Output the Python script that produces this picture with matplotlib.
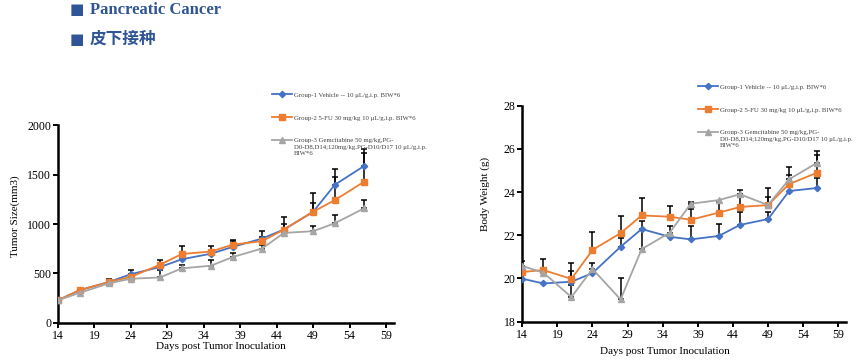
import numpy as np
import matplotlib
matplotlib.use('Agg')
import matplotlib.pyplot as plt

# Days of measurement
days = [14, 17, 21, 24, 28, 31, 35, 38, 42, 45, 49, 52, 56]

labels = ['Group-1 Vehicle -- 10 \u03bcL/g,i.p. BIW*6',
          'Group-2 5-FU 30 mg/kg 10 \u03bcL/g,i.p. BIW*6',
          'Group-3 Gemcitabine 50 mg/kg,PG-\nD0-D8,D14;120mg/kg,PG-D10/D17 10 \u03bcL/g,i.p.\nBIW*6']

# Tumor size (mm3)
tumor_g1 = [230, 332, 414, 493, 565, 644, 700, 769, 853, 944, 1123, 1397, 1586]
tumor_g2 = [230, 332, 414, 466, 589, 697, 722, 792, 826, 944, 1123, 1242, 1427]
tumor_g3 = [230, 305, 401, 447, 460, 552, 579, 667, 752, 910, 927, 1008, 1158]
tumor_err_g1 = [0, 25, 25, 42, 35, 40, 30, 60, 77, 127, 186, 154, 170]
tumor_err_g2 = [0, 26, 27, 30, 50, 82, 56, 50, 40, 53, 91, 233, 290]
tumor_err_g3 = [0, 20, 20, 20, 72, 35, 55, 43, 40, 20, 48, 84, 84]

# Body weight (g)
bw_g1 = [19.99, 19.77, 19.85, 20.25, 21.47, 22.29, 21.93, 21.81, 21.97, 22.48, 22.75, 24.05, 24.19]
bw_g2 = [20.30, 20.39, 19.98, 21.32, 22.10, 22.92, 22.86, 22.72, 23.05, 23.31, 23.40, 24.37, 24.90]
bw_g3 = [20.58, 20.27, 19.14, 20.44, 19.03, 21.36, 22.12, 23.46, 23.63, 23.90, 23.40, 24.59, 25.36]
bw_err_g1 = [0, 0, 0.5, 0, 0.4, 0.35, 0, 0.6, 0.55, 0.6, 0.35, 0, 0.45]
bw_err_g2 = [0, 0.5, 0.73, 0.83, 0.8, 0.8, 0.5, 0.5, 0.5, 0.45, 0.35, 0.4, 0.8]
bw_err_g3 = [0.24, 0, 0.55, 0.27, 1.0, 0.9, 0.3, 0.1, 0, 0.2, 0.8, 0.55, 0.55]

colors = ['#4472C4', '#ED7D31', '#A5A5A5']
markers = ['D', 's', '^']
msizes = [3.2, 5, 5]
leg_size = 4.9

plt.rcParams['font.family'] = ['Liberation Serif', 'DejaVu Serif']

fig = plt.figure(figsize=(8.6, 3.61), dpi=100)
ax1 = fig.add_axes([0.0674, 0.1053, 0.3907, 0.5484])
ax2 = fig.add_axes([0.6073, 0.1089, 0.3764, 0.5983])


def draw(ax, series, errs, ylim, yticks, ylabel, ylab_pos, xlab_pos, leg_anchor):
    handles = []
    for i in range(3):
        h, = ax.plot(days, series[i], color=colors[i], marker=markers[i], ms=msizes[i],
                     lw=1.3, zorder=3)
        handles.append(h)
    for i in range(3):
        d = np.array(days)
        v = np.array(series[i])
        e = np.array(errs[i])
        m = e > 0
        ax.errorbar(d[m], v[m], yerr=[np.zeros(m.sum()), e[m]], fmt='none',
                    ecolor='black', elinewidth=1.1, capsize=2.2, capthick=1.1, zorder=2)
    ax.set_xlim(14, 60.1)
    ax.set_xticks(range(14, 60, 5))
    ax.set_ylim(*ylim)
    ax.set_yticks(yticks)
    for s in ['top', 'right']:
        ax.spines[s].set_visible(False)
    for s in ['left', 'bottom']:
        ax.spines[s].set_linewidth(1.8)
    ax.tick_params(direction='out', length=3.5, width=1.4, labelsize=8.5, pad=1.5)
    ax.set_ylabel(ylabel, fontsize=8)
    ax.yaxis.set_label_coords(*ylab_pos)
    ax.set_xlabel('Days post Tumor Inoculation', fontsize=8)
    ax.xaxis.set_label_coords(*xlab_pos)
    # only the first line of each label sits beside the handle
    first_lines = [lab.split('\n')[0] for lab in labels]
    leg = ax.legend(handles, first_lines, loc='upper left', bbox_to_anchor=leg_anchor,
                    bbox_transform=fig.transFigure, frameon=False, fontsize=leg_size,
                    handlelength=3.0, handletextpad=0.2, labelspacing=2.5,
                    borderpad=0, borderaxespad=0, labelcolor='#404040')
    return leg


legs = []
legs.append(draw(ax1, [tumor_g1, tumor_g2, tumor_g3], [tumor_err_g1, tumor_err_g2, tumor_err_g3],
                 (0, 2000), [0, 500, 1000, 1500, 2000], 'Tumor Size(mm3)',
                 (-0.113, 0.54), (0.485, -0.096), (0.316, 0.745)))
legs.append(draw(ax2, [bw_g1, bw_g2, bw_g3], [bw_err_g1, bw_err_g2, bw_err_g3],
                 (18, 28), [18, 20, 22, 24, 26, 28], 'Body Weight (g)',
                 (-0.101, 0.59), (0.44, -0.117), (0.8116, 0.767)))

# continuation lines of the third legend label, under its first line
fig.canvas.draw()
inv = fig.transFigure.inverted()
for leg in legs:
    t = leg.get_texts()[2]
    bb = t.get_window_extent()
    x0, y0 = inv.transform((bb.x0, bb.y0))
    rest = '\n'.join(labels[2].split('\n')[1:])
    fig.text(x0, y0 - 0.004, rest, fontsize=leg_size, color='#404040',
             ha='left', va='top', linespacing=1.25)

# Header text
title_color = '#2F5597'
fig.text(70 / 860, 1 - 10 / 361, '\u25A0', color=title_color, fontsize=11,
         family=['DejaVu Sans'], va='center', ha='left')
fig.text(90 / 860, 1 - 10 / 361, 'Pancreatic Cancer', color=title_color, fontsize=12,
         fontweight='bold', va='center', ha='left')
fig.text(70 / 860, 1 - 39 / 361, '\u25A0', color=title_color, fontsize=11,
         family=['DejaVu Sans'], va='center', ha='left')
fig.text(90 / 860, 1 - 39 / 361, '皮下接种', color=title_color, fontsize=12,
         fontweight='bold', family=['Noto Sans CJK SC', 'DejaVu Sans'], va='center', ha='left')

fig.savefig('out.png', dpi=100)
